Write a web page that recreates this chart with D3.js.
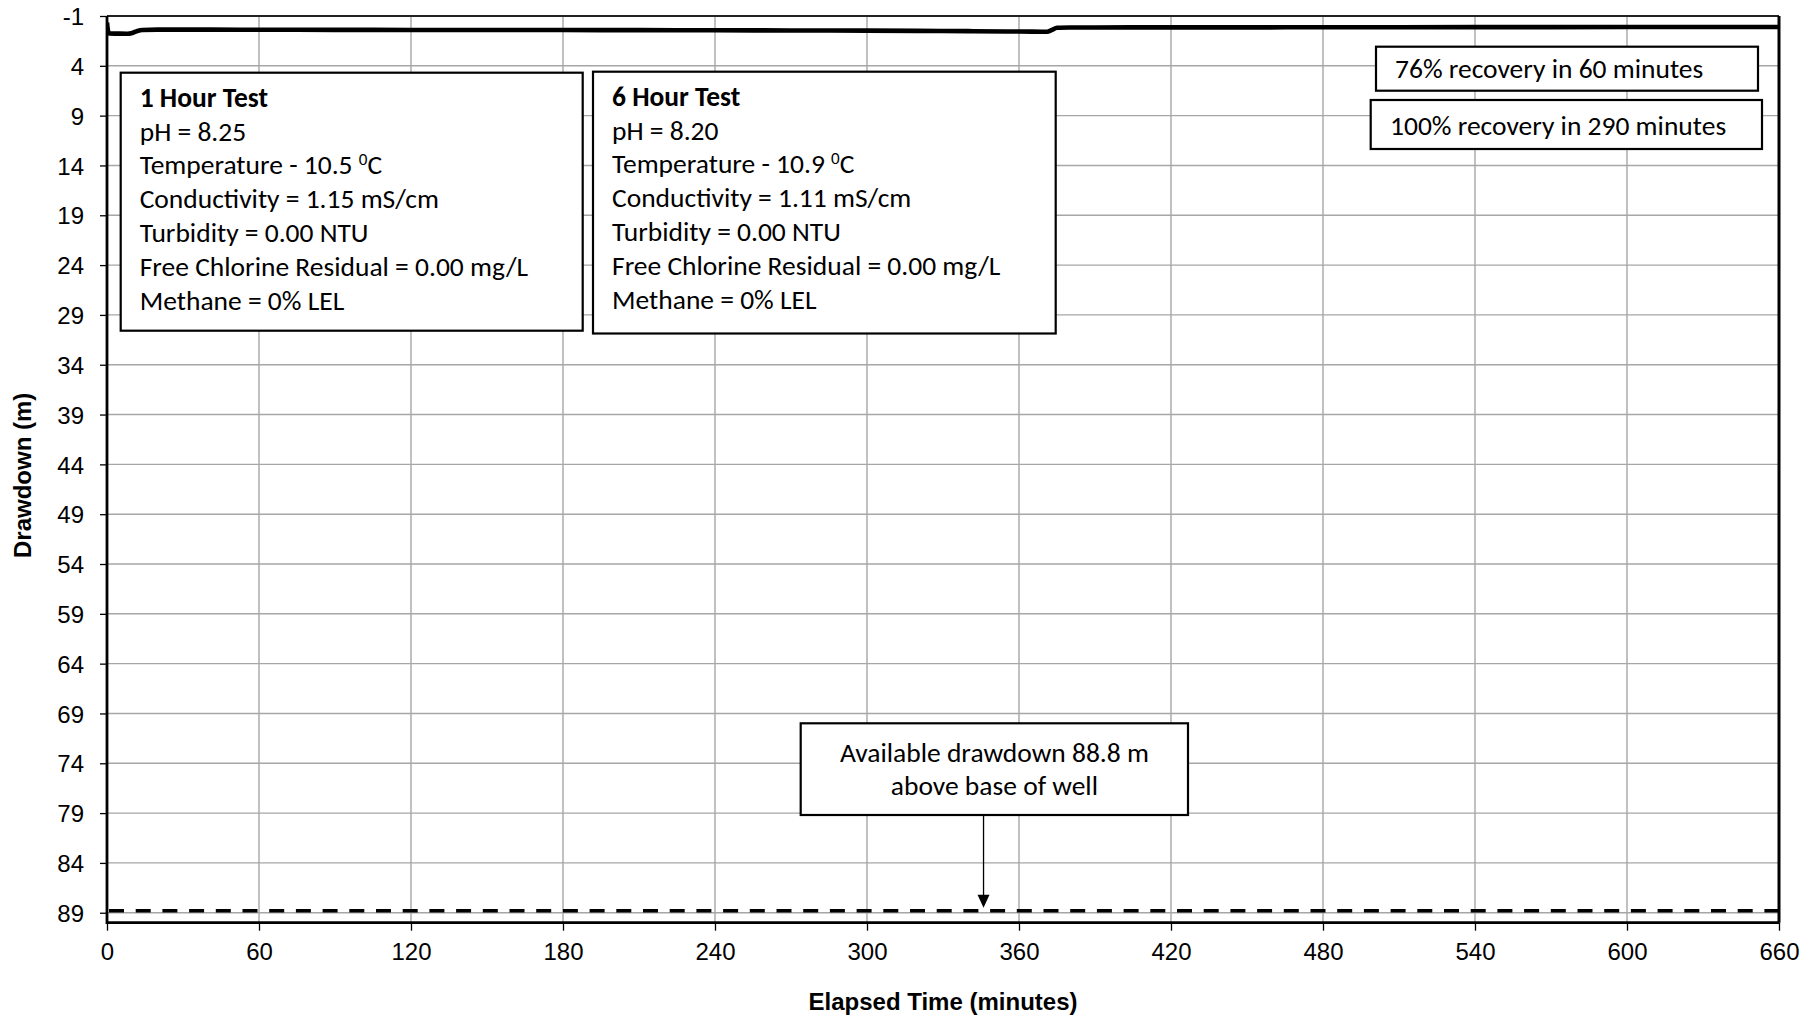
<!DOCTYPE html>
<html>
<head>
<meta charset="utf-8">
<script src="https://cdn.jsdelivr.net/npm/d3@7"></script>
<style>
  html, body { margin: 0; padding: 0; background: #fff; }
  svg { display: block; }
</style>
</head>
<body>
<svg id="chart" width="1813" height="1020"></svg>
<script>
// ---------------- DATA ----------------
const elapsedMinutes = [0, 0.5, 1, 4, 8, 10, 12, 14, 20, 40, 60, 90, 120, 150, 180, 210, 240, 270, 300, 320, 340, 355, 365, 371, 373, 375, 380, 390, 420, 450, 480, 540, 600, 660];
const drawdownM      = [-0.35, 0.6, 0.76, 0.77, 0.78, 0.7, 0.5, 0.4, 0.37, 0.37, 0.38, 0.39, 0.40, 0.41, 0.41, 0.42, 0.43, 0.45, 0.47, 0.49, 0.52, 0.55, 0.57, 0.58, 0.40, 0.18, 0.16, 0.15, 0.14, 0.14, 0.13, 0.12, 0.11, 0.10];
const availableDrawdown = 88.8;
const arrowTime = 346;
const xTicks = [0, 60, 120, 180, 240, 300, 360, 420, 480, 540, 600, 660];
const yTicks = [-1, 4, 9, 14, 19, 24, 29, 34, 39, 44, 49, 54, 59, 64, 69, 74, 79, 84, 89];
const yDomain = [-1, 90];
const xDomain = [0, 660];
const xTitle = "Elapsed Time (minutes)";
const yTitle = "Drawdown (m)";
const test1Lines = ["pH = 8.25", "Temperature - 10.5 |0|C", "Conductivity = 1.15 mS/cm", "Turbidity = 0.00 NTU", "Free Chlorine Residual = 0.00 mg/L", "Methane = 0% LEL"];
const test6Lines = ["pH = 8.20", "Temperature - 10.9 |0|C", "Conductivity = 1.11 mS/cm", "Turbidity = 0.00 NTU", "Free Chlorine Residual = 0.00 mg/L", "Methane = 0% LEL"];
const recovery1 = "76% recovery in 60 minutes";
const recovery2 = "100% recovery in 290 minutes";
const availLines = ["Available drawdown 88.8 m", "above base of well"];

// ---------------- LAYOUT ----------------
const svg = d3.select("#chart");
const plot = { left: 107, top: 16, right: 1779, bottom: 922.7 };
const x = d3.scaleLinear().domain(xDomain).range([plot.left, plot.right]);
const y = d3.scaleLinear().domain(yDomain).range([plot.top, plot.bottom]);

const axisFont = "'Liberation Sans', Arial, sans-serif";
const boxFont = "Carlito, Calibri, Lato, 'Open Sans', sans-serif";
const boxSize = 27.5;

// gridlines
const grid = svg.append("g");
grid.selectAll("line.v").data(xTicks.slice(1, -1)).join("line")
  .attr("x1", d => x(d)).attr("x2", d => x(d))
  .attr("y1", plot.top).attr("y2", plot.bottom)
  .attr("stroke", "#a6a6a6").attr("stroke-width", 1.4);
grid.selectAll("line.h").data(yTicks.slice(1)).join("line")
  .attr("x1", plot.left).attr("x2", plot.right)
  .attr("y1", d => y(d)).attr("y2", d => y(d))
  .attr("stroke", "#a6a6a6").attr("stroke-width", 1.4);

// axes
const xAxis = d3.axisBottom(x).tickValues(xTicks).tickSize(8).tickPadding(12).tickFormat(d => String(d));
const yAxis = d3.axisLeft(y).tickValues(yTicks).tickSize(7).tickPadding(16).tickFormat(d => String(d));

const gx = svg.append("g").attr("transform", `translate(0,${plot.bottom})`).call(xAxis);
const gy = svg.append("g").attr("transform", `translate(${plot.left},0)`).call(yAxis);
[gx, gy].forEach(g => {
  g.select(".domain").remove();
  g.selectAll(".tick line").attr("stroke", "#000").attr("stroke-width", 1.3);
  g.selectAll(".tick text").attr("font-family", axisFont).attr("font-size", 24).attr("fill", "#000");
});
gy.selectAll(".tick text").attr("dy", "0.36em");

// frame
svg.append("line").attr("x1", plot.left).attr("x2", plot.right).attr("y1", plot.top).attr("y2", plot.top)
  .attr("stroke", "#222").attr("stroke-width", 2.2);
svg.append("line").attr("x1", plot.right).attr("x2", plot.right).attr("y1", plot.top).attr("y2", plot.bottom)
  .attr("stroke", "#000").attr("stroke-width", 3);
svg.append("line").attr("x1", plot.left).attr("x2", plot.right).attr("y1", plot.bottom).attr("y2", plot.bottom)
  .attr("stroke", "#000").attr("stroke-width", 2.8);
svg.append("line").attr("x1", plot.left).attr("x2", plot.left).attr("y1", plot.top).attr("y2", plot.bottom + 1.4)
  .attr("stroke", "#000").attr("stroke-width", 2.8);

// axis titles
svg.append("text").attr("x", (plot.left + plot.right) / 2).attr("y", 1010)
  .attr("text-anchor", "middle").attr("font-family", axisFont).attr("font-weight", "bold")
  .attr("font-size", 24).text(xTitle);
svg.append("text").attr("transform", `translate(31,${(plot.top + plot.bottom) / 2 + 6}) rotate(-90)`)
  .attr("text-anchor", "middle").attr("font-family", axisFont).attr("font-weight", "bold")
  .attr("font-size", 24).text(yTitle);

// clip for data
svg.append("clipPath").attr("id", "clip").append("rect")
  .attr("x", plot.left).attr("y", plot.top).attr("width", plot.right - plot.left).attr("height", plot.bottom - plot.top);

// available drawdown dashed line
svg.append("line").attr("clip-path", "url(#clip)")
  .attr("x1", x(xDomain[0]) + 2).attr("x2", x(xDomain[1]))
  .attr("y1", y(availableDrawdown)).attr("y2", y(availableDrawdown))
  .attr("stroke", "#000").attr("stroke-width", 3.6).attr("stroke-dasharray", "15,11.7");

// drawdown line
const pts = elapsedMinutes.map((t, i) => [t, drawdownM[i]]);
svg.append("path").datum(pts).attr("clip-path", "url(#clip)")
  .attr("d", d3.line().x(d => x(d[0])).y(d => y(d[1])).curve(d3.curveMonotoneX))
  .attr("fill", "none").attr("stroke", "#000").attr("stroke-width", 4.6).attr("stroke-linejoin", "round");

// ---------------- ANNOTATION BOXES ----------------
function box(x0, y0, x1, y1) {
  svg.append("rect").attr("x", x0).attr("y", y0).attr("width", x1 - x0).attr("height", y1 - y0)
    .attr("fill", "#fff").attr("stroke", "#000").attr("stroke-width", 2.2);
}
function addLine(tx, ty, str, opts = {}) {
  const size = opts.size || boxSize;
  const t = svg.append("text").attr("x", tx).attr("y", ty)
    .attr("font-family", boxFont).attr("font-size", size).attr("fill", "#000")
    .attr("text-anchor", opts.anchor || "start");
  if (opts.bold) t.attr("font-weight", "bold");
  const parts = str.split("|");
  parts.forEach((p, i) => {
    const ts = t.append("tspan").text(p);
    if (i % 2 === 1) ts.attr("font-size", size * 0.62).attr("dy", "-0.55em");
    else if (i > 0) ts.attr("dy", "0.34em");
  });
  return t;
}
function testBox(x0, y0, x1, y1, title, lines) {
  box(x0, y0, x1, y1);
  addLine(x0 + 19, y0 + 34, title, { bold: true });
  lines.forEach((l, i) => addLine(x0 + 19, y0 + 34 + 33.8 * (i + 1), l));
}
testBox(120.7, 72.7, 582.7, 330.7, "1 Hour Test", test1Lines);
testBox(593, 71.7, 1055.7, 333.5, "6 Hour Test", test6Lines);

box(1376, 46.7, 1758, 90.7);
addLine(1395, 78, recovery1);
box(1370.7, 100, 1762, 149);
addLine(1390, 134.5, recovery2);

// available drawdown box + arrow
box(800.7, 723.3, 1188, 815);
addLine(994.4, 762, availLines[0], { anchor: "middle" });
addLine(994.4, 794.5, availLines[1], { anchor: "middle" });
const ax = x(arrowTime);
const tipY = y(availableDrawdown) - 3;
svg.append("line").attr("x1", ax).attr("x2", ax).attr("y1", 816).attr("y2", tipY - 11)
  .attr("stroke", "#000").attr("stroke-width", 1.3);
svg.append("path").attr("d", `M${ax - 6},${tipY - 13} L${ax + 6},${tipY - 13} L${ax},${tipY} Z`).attr("fill", "#000");
</script>
</body>
</html>
